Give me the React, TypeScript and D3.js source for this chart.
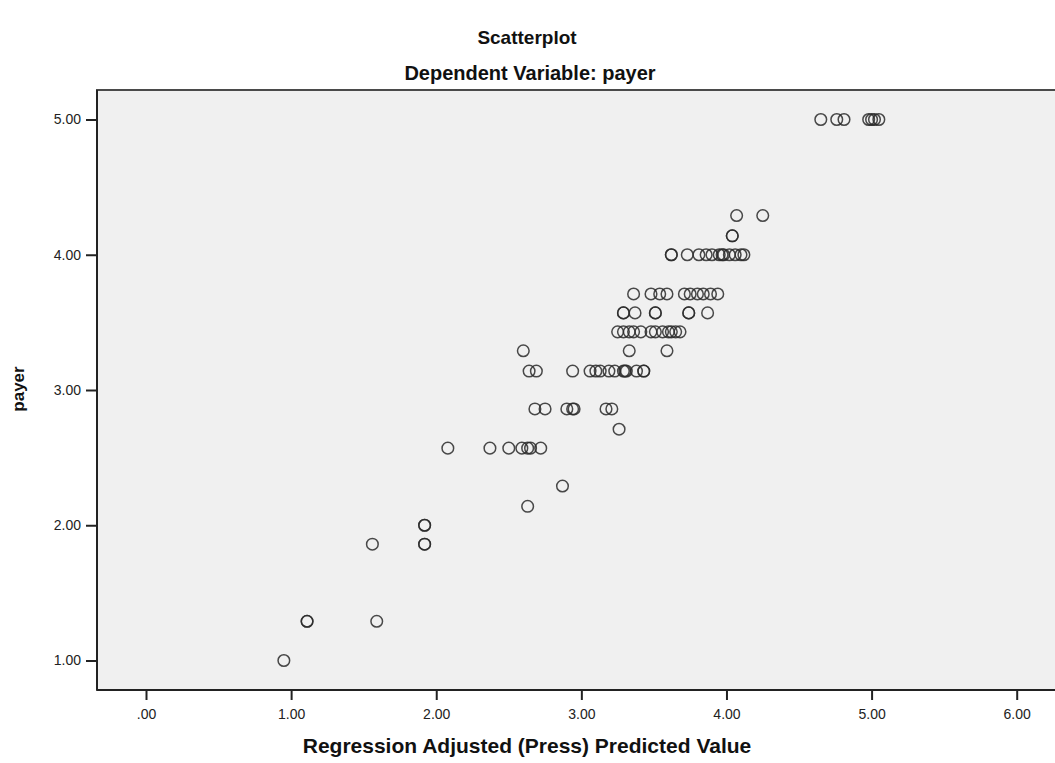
import React, { useEffect, useRef } from 'react';
import * as d3 from 'd3';

// payer level of each case (multiples of 1/7)
const payerValues = [
  1.00,
  1.29, 1.29, 1.29,
  1.86, 1.86, 1.86,
  2.00, 2.00,
  2.14,
  2.29,
  2.57, 2.57, 2.57, 2.57, 2.57, 2.57, 2.57,
  2.71,
  2.86, 2.86, 2.86, 2.86, 2.86, 2.86, 2.86,
  3.14, 3.14, 3.14, 3.14, 3.14, 3.14, 3.14, 3.14, 3.14, 3.14, 3.14, 3.14, 3.14, 3.14,
  3.29, 3.29, 3.29,
  3.43, 3.43, 3.43, 3.43, 3.43, 3.43, 3.43, 3.43, 3.43, 3.43, 3.43, 3.43,
  3.57, 3.57, 3.57, 3.57, 3.57, 3.57, 3.57, 3.57,
  3.71, 3.71, 3.71, 3.71, 3.71, 3.71, 3.71, 3.71, 3.71, 3.71,
  4.00, 4.00, 4.00, 4.00, 4.00, 4.00, 4.00, 4.00, 4.00, 4.00, 4.00, 4.00, 4.00,
  4.14, 4.14,
  4.29, 4.29,
  5.00, 5.00, 5.00, 5.00, 5.00, 5.00, 5.00,
];

// regression adjusted (press) predicted value, same order as payerValues
const predictedValues = [
  0.95,
  1.11, 1.11, 1.59,
  1.56, 1.92, 1.92,
  1.92, 1.92,
  2.63,
  2.87,
  2.08, 2.37, 2.50, 2.59, 2.63, 2.65, 2.72,
  3.26,
  2.68, 2.75, 2.90, 2.94, 2.95, 3.17, 3.21,
  2.64, 2.69, 2.94, 3.06, 3.10, 3.13, 3.19, 3.23, 3.29, 3.30, 3.31, 3.38, 3.43, 3.43,
  2.60, 3.33, 3.59,
  3.25, 3.29, 3.33, 3.36, 3.41, 3.48, 3.51, 3.56, 3.60, 3.62, 3.65, 3.68,
  3.29, 3.29, 3.37, 3.51, 3.51, 3.74, 3.74, 3.87,
  3.36, 3.48, 3.54, 3.59, 3.71, 3.75, 3.80, 3.84, 3.89, 3.94,
  3.62, 3.62, 3.73, 3.81, 3.86, 3.90, 3.95, 3.97, 3.98, 4.02, 4.06, 4.10, 4.12,
  4.04, 4.04,
  4.07, 4.25,
  4.65, 4.76, 4.81, 4.98, 5.00, 5.02, 5.05,
];

const xTicks = [0, 1, 2, 3, 4, 5, 6];
const yTicks = [1, 2, 3, 4, 5];

const title = 'Scatterplot';
const subtitle = 'Dependent Variable: payer';
const xLabel = 'Regression Adjusted (Press) Predicted Value';
const yLabel = 'payer';

function App() {
  const ref = useRef<SVGSVGElement | null>(null);
  const width = 1055;
  const height = 763;
  const plot = { left: 97, top: 90, right: 1062, bottom: 690 };

  useEffect(() => {
    drawChart();
  });

  function drawChart() {
    const svg = d3.select(ref.current);
    svg.selectAll('*').remove();

    const fmt = (v: number) => (v === 0 ? '.00' : d3.format('.2f')(v));

    const x = d3.scaleLinear().domain([0, 6]).range([146, 1016.7]);
    const y = d3.scaleLinear().domain([1, 5]).range([660.5, 119.5]);

    svg.append('rect')
      .attr('width', width)
      .attr('height', height)
      .attr('fill', '#ffffff');

    // plot background + frame
    svg.append('rect')
      .attr('x', plot.left)
      .attr('y', plot.top)
      .attr('width', plot.right - plot.left)
      .attr('height', plot.bottom - plot.top)
      .attr('fill', '#f0f0f0')
      .attr('stroke', '#4a4a4a')
      .attr('stroke-width', 2);

    // axes
    const xAxis = svg.append('g')
      .attr('transform', `translate(0, ${plot.bottom})`)
      .call(d3.axisBottom(x).tickValues(xTicks).tickFormat((d) => fmt(+d)).tickSize(10).tickSizeOuter(0));
    xAxis.select('.domain').remove();
    xAxis.selectAll('line').attr('stroke', '#222').attr('stroke-width', 2);
    xAxis.selectAll('text')
      .attr('y', 19)
      .style('font-family', 'Liberation Sans, Arial, sans-serif')
      .style('font-size', '14px')
      .attr('fill', '#222');

    const yAxis = svg.append('g')
      .attr('transform', `translate(${plot.left}, 0)`)
      .call(d3.axisLeft(y).tickValues(yTicks).tickFormat((d) => fmt(+d)).tickSize(11).tickSizeOuter(0));
    yAxis.select('.domain').remove();
    yAxis.selectAll('line').attr('stroke', '#222').attr('stroke-width', 2);
    yAxis.selectAll('text')
      .attr('x', -16)
      .style('font-family', 'Liberation Sans, Arial, sans-serif')
      .style('font-size', '14px')
      .attr('fill', '#222');

    svg.append('line')
      .attr('x1', plot.left).attr('x2', plot.left)
      .attr('y1', plot.top).attr('y2', plot.bottom)
      .attr('stroke', '#222').attr('stroke-width', 2);
    svg.append('line')
      .attr('x1', plot.left).attr('x2', width)
      .attr('y1', plot.bottom).attr('y2', plot.bottom)
      .attr('stroke', '#222').attr('stroke-width', 2);

    // points
    const points = predictedValues.map((p, i) => ({ pred: p, payer: payerValues[i] }));
    svg.append('g')
      .selectAll('circle')
      .data(points)
      .enter()
      .append('circle')
      .attr('cx', (d) => x(d.pred))
      .attr('cy', (d) => y(d.payer))
      .attr('r', 5.8)
      .attr('fill', 'none')
      .attr('stroke', '#2a2a2a')
      .attr('stroke-opacity', 0.85)
      .attr('stroke-width', 1.5);

    // titles
    const bold = (sel: any, size: number) => sel
      .attr('text-anchor', 'middle')
      .style('font-family', 'Liberation Sans, Arial, sans-serif')
      .style('font-weight', 'bold')
      .style('font-size', `${size}px`)
      .attr('fill', '#111');

    bold(svg.append('text').attr('x', 527).attr('y', 44).text(title), 19);
    bold(svg.append('text').attr('x', 530).attr('y', 80).text(subtitle), 20);
    bold(svg.append('text').attr('x', 527).attr('y', 753).text(xLabel), 21);
    bold(svg.append('text')
      .attr('transform', `translate(24, 389) rotate(-90)`)
      .text(yLabel), 17);
  }

  return (
    <svg
      ref={ref}
      width={width}
      height={height}
      style={{ position: 'absolute', left: 0, top: 0, display: 'block' }}
    />
  );
}

export default App;
